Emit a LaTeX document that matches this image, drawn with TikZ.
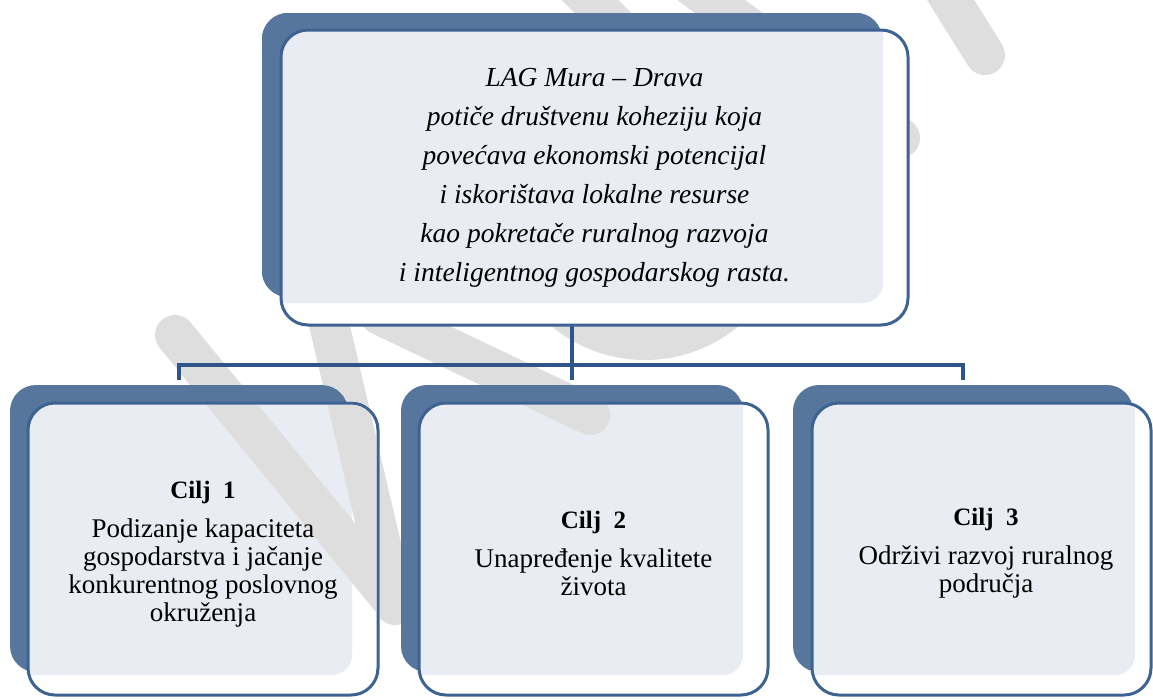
\documentclass[tikz,border=0pt]{standalone}
\usepackage{fontspec}
\setmainfont{Liberation Serif}
\definecolor{backblue}{RGB}{86,118,158}
\definecolor{frontline}{RGB}{62,98,146}
\definecolor{innerfill}{RGB}{233,236,242}
\definecolor{connblue}{RGB}{46,84,138}
\definecolor{wmgray}{RGB}{222,222,222}
\tikzset{
  wm/.style={draw=wmgray, line width=40pt, line cap=round},
  backbox/.style={rectangle, rounded corners=26pt, fill=backblue, draw=none, inner sep=0pt, outer sep=0pt},
  frontbox/.style={rectangle, rounded corners=27pt, fill=white, draw=none, inner sep=0pt, outer sep=0pt},
  frontedge/.style={draw=frontline, line width=3pt, rounded corners=27pt},
  conn/.style={draw=connblue, line width=3.5pt},
  toptext/.style={align=center, font=\itshape\fontsize{27.5}{39}\selectfont, inner sep=0pt},
  goaltext/.style={align=center, font=\fontsize{27}{28}\selectfont, inner sep=0pt},
}
\newcommand\ciljhead[1]{{\fontsize{25}{28}\selectfont\bfseries Cilj\ \ #1}}
\begin{document}
\begin{tikzpicture}[x=1pt,y=-1pt]
\useasboundingbox (0,0) rectangle (1153,699);
\fill[white] (0,0) rectangle (1153,699);
% bottom back boxes
\node[backbox, minimum width=338pt, minimum height=287pt] (b1back) at (179,528.5) {};
\node[backbox, minimum width=342pt, minimum height=287pt] (b2back) at (572,528.5) {};
\node[backbox, minimum width=340pt, minimum height=287pt] (b3back) at (963,528.5) {};
% bottom front boxes
\node[frontbox, minimum width=350pt, minimum height=292pt] (b1front) at (203,549) {};
\begin{scope}
  \clip[rounded corners=27pt] (b1front.south west) rectangle (b1front.north east);
  \fill[innerfill, rounded corners=20pt] (0,370) rectangle (352,675);
\end{scope}
\draw[frontedge] (b1front.south west) rectangle (b1front.north east);

\node[frontbox, minimum width=349pt, minimum height=292pt] (b2front) at (593.5,549) {};
\begin{scope}
  \clip[rounded corners=27pt] (b2front.south west) rectangle (b2front.north east);
  \fill[innerfill, rounded corners=20pt] (390,370) rectangle (743,675);
\end{scope}
\draw[frontedge] (b2front.south west) rectangle (b2front.north east);

\node[frontbox, minimum width=339pt, minimum height=292pt] (b3front) at (981.5,549) {};
\begin{scope}
  \clip[rounded corners=27pt] (b3front.south west) rectangle (b3front.north east);
  \fill[innerfill, rounded corners=20pt] (780,370) rectangle (1135,675);
\end{scope}
\draw[frontedge] (b3front.south west) rectangle (b3front.north east);
% goal texts
\node[goaltext] (g1txt) at ([yshift=-5pt]b1front.center) {\ciljhead{1}\\[11pt] Podizanje kapaciteta\\ gospodarstva i jačanje\\ konkurentnog poslovnog\\ okruženja};
\node[goaltext] (g2txt) at ([yshift=-4.5pt]b2front.center) {\ciljhead{2}\\[11pt] Unapređenje kvalitete\\ života};
\node[goaltext] (g3txt) at ([xshift=4.5pt,yshift=-4.5pt]b3front.center) {\ciljhead{3}\\[11pt] Održivi razvoj ruralnog\\ područja};
% top back box (named early for connectors)
\node[backbox, minimum width=620pt, minimum height=284pt] (topback) at (572,155) {};
% connectors
\coordinate (bus) at (572,365);
\draw[conn, shorten >=5pt] (topback.south) -- (b2back.north);
\draw[conn, shorten <=5pt, shorten >=5pt] (b1back.north) |- (bus) -| (b3back.north);
% watermark
\begin{scope}[blend mode=darken]
\draw[wm] (175,335) -- (392,600);
\draw[wm] (300,200) -- (395,605);
\draw[wm] (380,315) -- (590,415);
\draw[wm] (560,-30) -- (665,75);
\draw[wm] (670,-30) -- (900,138);
\draw[wm] (935,-25) -- (985,55);
\draw[wm] (645,214) circle[radius=126pt];
\end{scope}
% top box drawn over the watermark
\node[backbox, minimum width=620pt, minimum height=284pt] (topback2) at (topback.center) {};
\node[frontbox, minimum width=627pt, minimum height=295pt] (topfront) at (594.5,177.5) {};
\begin{scope}
  \clip[rounded corners=27pt] (topfront.south west) rectangle (topfront.north east);
  \fill[innerfill, rounded corners=20pt] (240,0) rectangle (883,303);
\end{scope}
\draw[frontedge] (topfront.south west) rectangle (topfront.north east);
\node[toptext] (toptxt) at (topfront.center) {LAG Mura – Drava\\ potiče društvenu koheziju koja\\ povećava ekonomski potencijal\\ i iskorištava lokalne resurse\\ kao pokretače ruralnog razvoja\\ i inteligentnog gospodarskog rasta.};
\end{tikzpicture}
\end{document}
